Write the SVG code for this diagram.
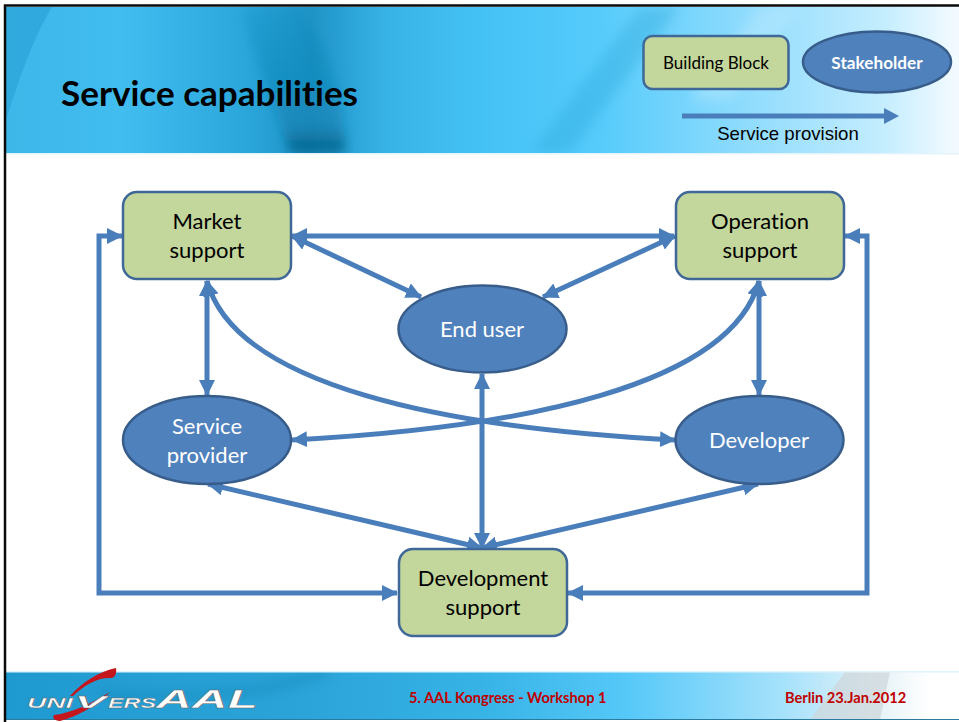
<svg xmlns="http://www.w3.org/2000/svg" width="959" height="722" viewBox="0 0 959 722">
<style>
.t{font-family:Lato,"Noto Sans",sans-serif;font-variant-ligatures:none}
.c{text-anchor:middle;font-size:22px}
.w{fill:#fff}
.k{fill:#000}
.box{fill:#c3d69b;stroke:#3f6797;stroke-width:2.5}
.ell{fill:#4f81bd;stroke:#385d8a;stroke-width:2.5}
.ln{fill:none;stroke:#4a7ebb;stroke-width:5;stroke-linejoin:miter}
.foot{font-family:Lato,"Noto Sans",sans-serif;font-variant-ligatures:none;font-size:14.6px;font-weight:700;fill:#c00000}
.lg{font-family:"Liberation Sans",sans-serif;font-style:italic;font-weight:700;fill:#fff;stroke:#666;stroke-width:.4}
</style>
<defs>
<marker id="a" viewBox="0 0 16 16" refX="15" refY="8" markerWidth="16" markerHeight="16" markerUnits="userSpaceOnUse" orient="auto-start-reverse"><path d="M0 0L16 8L0 16Z" fill="#4a7ebb"/></marker>
<linearGradient id="hdr" x1="0" x2="1" y1="0" y2="0">
<stop offset="0" stop-color="#3db6e8"/><stop offset=".12" stop-color="#42bdf0"/><stop offset=".25" stop-color="#2ba7dc"/><stop offset=".32" stop-color="#1e93c6"/><stop offset=".4" stop-color="#38b3e6"/><stop offset=".5" stop-color="#45c2f5"/><stop offset=".62" stop-color="#55cbfb"/><stop offset=".78" stop-color="#90dcfd"/><stop offset=".92" stop-color="#c4edfe"/><stop offset="1" stop-color="#f4fbff"/>
</linearGradient>
<linearGradient id="ftr" x1="0" x2="1" y1="0" y2="0">
<stop offset="0" stop-color="#1f9ad0"/><stop offset=".3" stop-color="#2aa3d8"/><stop offset=".5" stop-color="#37b3e6"/><stop offset=".65" stop-color="#55c8f8"/><stop offset=".82" stop-color="#a8e2fb"/><stop offset=".92" stop-color="#e8f4f8"/><stop offset=".97" stop-color="#fff"/>
</linearGradient>
<linearGradient id="dark" x1="0" x2="0" y1="0" y2="1"><stop offset="0" stop-color="#0f7fb0" stop-opacity=".15"/><stop offset=".8" stop-color="#0f7fb0" stop-opacity=".55"/><stop offset="1" stop-color="#04587f" stop-opacity=".9"/></linearGradient>
<filter id="b" x="-20%" y="-20%" width="140%" height="140%"><feGaussianBlur stdDeviation="6"/></filter>
<clipPath id="hc"><rect x="6" y="7" width="953" height="146"/></clipPath>
<clipPath id="fc"><rect x="6" y="672" width="953" height="48"/></clipPath>
</defs>
<rect width="959" height="722" fill="#fff"/>
<g id="header-bg" clip-path="url(#hc)">
<rect x="6" y="7" width="953" height="146" fill="url(#hdr)"/>
<path d="M240 7C262 80 280 120 290 153H345C345 100 330 50 300 7Z" fill="url(#dark)" filter="url(#b)"/>
<path d="M6 120C22 70 35 35 52 7H6Z" fill="#2ba4d8" opacity=".7"/>
<path d="M530 153L640 7H680L570 153Z" fill="#2ba6d8" opacity=".35" filter="url(#b)"/>
<path d="M690 100L760 7H800L730 100Z" fill="#bfeafe" opacity=".4" filter="url(#b)"/>
</g>
<g id="footer-bg" clip-path="url(#fc)">
<rect x="6" y="672" width="953" height="48" fill="url(#ftr)"/>
<path d="M100 695C180 700 260 695 330 672" fill="none" stroke="#0d6c99" stroke-width="4" opacity=".5" filter="url(#b)"/>
<path d="M810 720L845 672H890L880 720Z" fill="#cfd6da" opacity=".7"/>
<rect x="6" y="719" width="953" height="2" fill="#2b7b9f"/>
</g>
<rect x="6" y="153" width="953" height="1.5" fill="#e3f4fc"/>
<rect x="6" y="671" width="953" height="1.5" fill="#dff2fb"/>
<path d="M5 722V5.500H959" fill="none" stroke="#0a0a0a" stroke-width="2.500"/>
<text class="t" x="61" y="106" font-size="35" font-weight="700" fill="#000" textLength="297" lengthAdjust="spacingAndGlyphs">Service capabilities</text>
<g id="connectors">
<path class="ln" d="M682 116H884"/>
<path d="M884 108L899 116L884 124Z" fill="#4a7ebb"/>
<path class="ln" d="M292 236H674" marker-start="url(#a)" marker-end="url(#a)"/>
<path class="ln" d="M292 236L421 297" marker-start="url(#a)" marker-end="url(#a)"/>
<path class="ln" d="M675 236L543 297" marker-start="url(#a)" marker-end="url(#a)"/>
<path class="ln" d="M207 281V395" marker-start="url(#a)" marker-end="url(#a)"/>
<path class="ln" d="M759 281V395" marker-start="url(#a)" marker-end="url(#a)"/>
<path class="ln" d="M207 281C235 386 445 428 675 440" marker-start="url(#a)" marker-end="url(#a)"/>
<path class="ln" d="M759 281C731 386 521 428 292 440" marker-start="url(#a)" marker-end="url(#a)"/>
<path class="ln" d="M482 374V548" marker-start="url(#a)" marker-end="url(#a)"/>
<path class="ln" d="M208 484L482 548" marker-start="url(#a)" marker-end="url(#a)"/>
<path class="ln" d="M758 484L482 548" marker-start="url(#a)" marker-end="url(#a)"/>
<path class="ln" d="M122 236H99V593H397" marker-start="url(#a)" marker-end="url(#a)"/>
<path class="ln" d="M845 236H867V593H568" marker-start="url(#a)" marker-end="url(#a)"/>
</g>
<g id="legend-block"><rect class="box" x="643.500" y="36" width="145" height="53" rx="9"/><text class="t k" x="716" y="69" text-anchor="middle" font-size="17">Building Block</text></g>
<g id="legend-stakeholder"><ellipse class="ell" cx="877" cy="62" rx="74" ry="30.500"/><text class="t w" x="877" y="69" text-anchor="middle" font-size="17.200" font-weight="700">Stakeholder</text></g>
<text x="788" y="140" text-anchor="middle" font-family="Liberation Sans,sans-serif" font-size="18.600" fill="#000">Service provision</text>
<g id="market"><rect class="box" x="123" y="192" width="168" height="87" rx="14"/><text class="t c k" x="207" y="229">Market</text><text class="t c k" x="207" y="258">support</text></g>
<g id="operation"><rect class="box" x="676" y="192" width="168" height="87" rx="14"/><text class="t c k" x="760" y="229">Operation</text><text class="t c k" x="760" y="258">support</text></g>
<g id="end-user"><ellipse class="ell" cx="482.500" cy="329" rx="84" ry="43.500"/><text class="t c w" x="482" y="337">End user</text></g>
<g id="service-provider"><ellipse class="ell" cx="207" cy="440" rx="84" ry="44"/><text class="t c w" x="207" y="434">Service</text><text class="t c w" x="207" y="463">provider</text></g>
<g id="developer"><ellipse class="ell" cx="759.500" cy="440" rx="84" ry="44"/><text class="t c w" x="759" y="448">Developer</text></g>
<g id="development"><rect class="box" x="399" y="549" width="168" height="87" rx="14"/><text class="t c k" x="483" y="586">Development</text><text class="t c k" x="483" y="615">support</text></g>
<g id="logo">
<path d="M70 696C82 682 100 671 116 668C117 673 115 677 112 678C98 677 84 685 73 696Z" fill="#c4161c"/>
<path d="M110 692C95 707 78 716 60 721C54 721 52 717 54 715C72 713 92 703 110 692Z" fill="#c4161c"/>
<text class="lg" x="27" y="708" font-size="15" textLength="46" lengthAdjust="spacingAndGlyphs">UNI</text>
<text class="lg" x="74" y="708" font-size="17" textLength="32" lengthAdjust="spacingAndGlyphs">V</text>
<text class="lg" x="108" y="708" font-size="15" textLength="48" lengthAdjust="spacingAndGlyphs">ERS</text>
<text class="lg" x="156" y="708" font-size="25" textLength="102" lengthAdjust="spacingAndGlyphs">AAL</text>
</g>
<text class="foot" x="409" y="703">5. AAL Kongress - Workshop 1</text>
<text class="foot" x="785" y="703">Berlin 23.Jan.2012</text>
</svg>
